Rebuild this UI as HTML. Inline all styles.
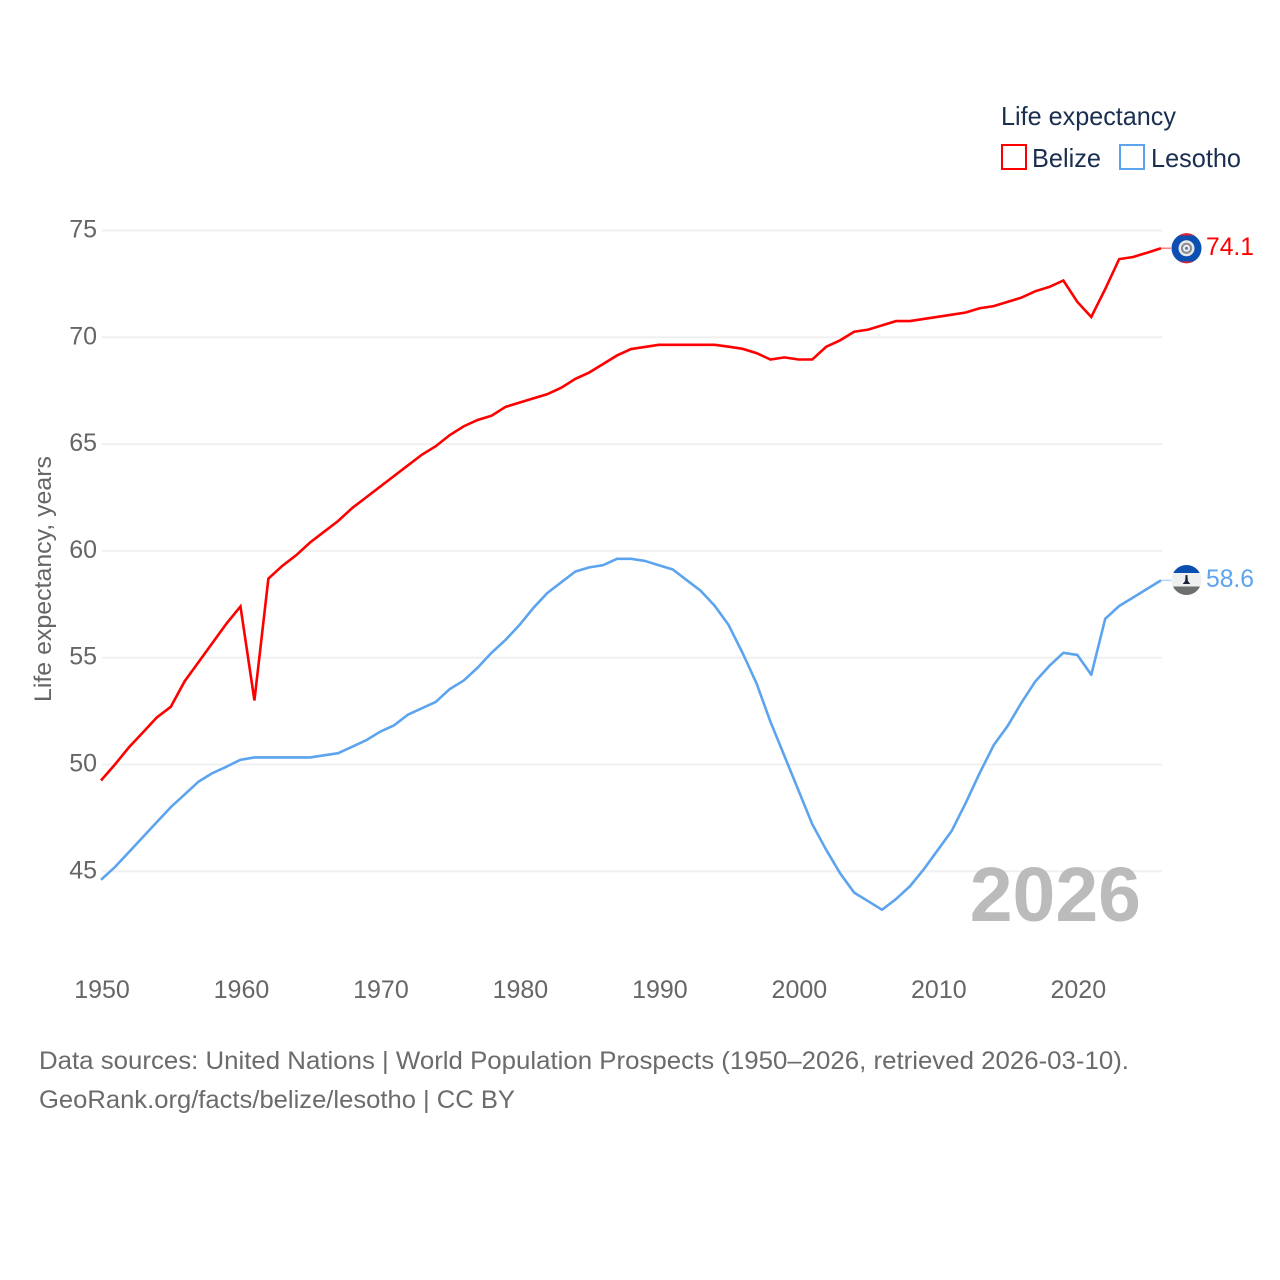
<!DOCTYPE html>
<html lang="en">
<head>
<meta charset="utf-8">
<title>Life expectancy: Belize vs Lesotho</title>
<style>
html,body{margin:0;padding:0;background:#fff;width:1280px;height:1280px;overflow:hidden}
svg{display:block;font-family:"Liberation Sans",sans-serif}
</style>
</head>
<body>
<svg id="chart" width="1280" height="1280" viewBox="0 0 1280 1280" xmlns="http://www.w3.org/2000/svg">
  <rect width="1280" height="1280" fill="#fff"/>
  <g id="grid"></g>
  <g id="yticks"></g>
  <g id="xticks"></g>
  <text transform="translate(51,702) rotate(-90)" font-size="24" fill="#666" textLength="246" lengthAdjust="spacingAndGlyphs">Life expectancy, years</text>
  <text x="1141" y="921" text-anchor="end" font-size="77" font-weight="bold" fill="#bbbbbb">2026</text>
  <g id="series"></g>

  <g>
    <text x="1001" y="125" font-size="26" fill="#1a2f50" textLength="175" lengthAdjust="spacingAndGlyphs">Life expectancy</text>
    <g>
      <rect x="1002" y="145" width="24" height="24" fill="#fff" stroke="#ff0000" stroke-width="2"/>
      <text x="1032" y="167" font-size="26" fill="#1a2f50" textLength="69" lengthAdjust="spacingAndGlyphs">Belize</text>
    </g>
    <g>
      <rect x="1120" y="145" width="24" height="24" fill="#fff" stroke="#5ca4ee" stroke-width="2"/>
      <text x="1151" y="167" font-size="26" fill="#1a2f50" textLength="90" lengthAdjust="spacingAndGlyphs">Lesotho</text>
    </g>
  </g>

  <defs>
    <clipPath id="flag-clip-belize"><circle cx="1186.500" cy="248.300" r="15"/></clipPath>
    <clipPath id="flag-clip-lesotho"><circle cx="1186.500" cy="580" r="15"/></clipPath>
  </defs>

  <g clip-path="url(#flag-clip-belize)">
    <rect x="1171" y="233" width="31" height="31" fill="#0b4fb3"/>
    <rect x="1171" y="233" width="31" height="2.500" fill="#e0202a"/>
    <rect x="1171" y="261.500" width="31" height="2.500" fill="#e0202a"/>
    <circle cx="1186.500" cy="248.300" r="8" fill="#e8e8e8"/>
    <circle cx="1186.500" cy="248.300" r="5.600" fill="#8a8f96"/>
    <circle cx="1186.500" cy="248.300" r="3.500" fill="#f1f1f1"/>
    <circle cx="1186.500" cy="248.300" r="1.600" fill="#5d7fb0"/>
  </g>
  <text x="1206" y="255" font-size="25" fill="#ff0000" textLength="48" lengthAdjust="spacingAndGlyphs">74.1</text>

  <g clip-path="url(#flag-clip-lesotho)">
    <rect x="1171" y="564" width="31" height="32" fill="#efefef"/>
    <rect x="1171" y="564" width="31" height="9" fill="#0a4fb0"/>
    <rect x="1171" y="586.500" width="31" height="10" fill="#6b6f6d"/>
    <path d="M1185.600 575 h1.800 l0.500 6 l2.400 3 h-7.600 l2.400 -3 z" fill="#1a2338"/>
  </g>
  <text x="1206" y="587" font-size="25" fill="#5ca4ee" textLength="48" lengthAdjust="spacingAndGlyphs">58.6</text>

  <text x="39" y="1069" font-size="25" fill="#6b6b6b" textLength="1090" lengthAdjust="spacingAndGlyphs">Data sources: United Nations | World Population Prospects (1950–2026, retrieved 2026-03-10).</text>
  <text x="39" y="1108" font-size="25" fill="#6b6b6b" textLength="476" lengthAdjust="spacingAndGlyphs">GeoRank.org/facts/belize/lesotho | CC BY</text>
</svg>
<script>
const startYear = 1950;
const xTickLabels = [1950, 1960, 1970, 1980, 1990, 2000, 2010, 2020];
const yTickLabels = [45, 50, 55, 60, 65, 70, 75];
const belizeValues = [
  49.25, 50.0, 50.8, 51.5, 52.2, 52.7, 53.9, 54.8, 55.7, 56.6,
  57.4, 53.0, 58.7, 59.3, 59.8, 60.4, 60.9, 61.4, 62.0, 62.5,
  63.0, 63.5, 64.0, 64.5, 64.9, 65.42, 65.83, 66.13, 66.33, 66.74,
  66.94, 67.14, 67.34, 67.64, 68.05, 68.35, 68.75, 69.15, 69.45, 69.55,
  69.65, 69.65, 69.65, 69.65, 69.65, 69.56, 69.46, 69.26, 68.96, 69.06,
  68.96, 68.96, 69.56, 69.86, 70.26, 70.36, 70.56, 70.76, 70.76, 70.86,
  70.96, 71.06, 71.16, 71.36, 71.46, 71.66, 71.86, 72.16, 72.36, 72.66,
  71.66, 70.95, 72.26, 73.66, 73.76, 73.96, 74.17
];
const lesothoValues = [
  44.6, 45.2, 45.9, 46.6, 47.3, 48.0, 48.6, 49.2, 49.6, 49.9,
  50.22, 50.33, 50.33, 50.33, 50.33, 50.33, 50.43, 50.53, 50.83, 51.13,
  51.53, 51.83, 52.33, 52.63, 52.93, 53.53, 53.93, 54.53, 55.23, 55.83,
  56.53, 57.33, 58.03, 58.53, 59.03, 59.23, 59.33, 59.63, 59.63, 59.53,
  59.33, 59.13, 58.63, 58.13, 57.43, 56.53, 55.22, 53.8, 52.0, 50.4,
  48.8, 47.2, 46.0, 44.9, 44.0, 43.6, 43.2, 43.7, 44.3, 45.1,
  46.0, 46.9, 48.2, 49.6, 50.9, 51.8, 52.9, 53.9, 54.62, 55.23,
  55.13, 54.2, 56.82, 57.42, 57.82, 58.22, 58.62
];

const NS = 'http://www.w3.org/2000/svg';
const xScale = year => 102 + (year - 1950) * (1060 / 76);
const lineX = year => 101 + (year - 1950) * (1060 / 76);
const yScale = value => 230.5 + (75 - value) * 21.36;

const gridGroup = document.getElementById('grid');
const yGroup = document.getElementById('yticks');
const xGroup = document.getElementById('xticks');
const seriesGroup = document.getElementById('series');

yTickLabels.forEach(function (tick) {
  const line = document.createElementNS(NS, 'line');
  
  
  line.setAttribute('x1', 102);
  line.setAttribute('x2', 1162);
  line.setAttribute('y1', yScale(tick));
  line.setAttribute('y2', yScale(tick));
  line.setAttribute('stroke', '#f0f0f0');
  line.setAttribute('stroke-width', 2);
  gridGroup.appendChild(line);

  const label = document.createElementNS(NS, 'text');
  
  
  label.setAttribute('x', 97);
  label.setAttribute('y', yScale(tick) + 7);
  label.setAttribute('text-anchor', 'end');
  label.setAttribute('font-size', 25);
  label.setAttribute('fill', '#666');
  label.textContent = tick;
  yGroup.appendChild(label);
});

xTickLabels.forEach(function (tick) {
  const label = document.createElementNS(NS, 'text');
  
  
  label.setAttribute('x', xScale(tick));
  label.setAttribute('y', 998);
  label.setAttribute('text-anchor', 'middle');
  label.setAttribute('font-size', 25);
  label.setAttribute('fill', '#666');
  label.textContent = tick;
  xGroup.appendChild(label);
});

function pointsFor(values) {
  return values.map(function (value, i) {
    return lineX(startYear + i).toFixed(2) + ',' + yScale(value).toFixed(2);
  }).join(' ');
}

function endStub(values, color) {
  const stub = document.createElementNS(NS, 'line');
  
  
  const last = yScale(values[values.length - 1]);
  stub.setAttribute('x1', lineX(startYear + values.length - 1));
  stub.setAttribute('x2', 1171);
  stub.setAttribute('y1', last);
  stub.setAttribute('y2', last);
  stub.setAttribute('stroke', color);
  stub.setAttribute('stroke-width', 1.5);
  seriesGroup.appendChild(stub);
}

const lesothoLine = document.createElementNS(NS, 'polyline');


lesothoLine.setAttribute('points', pointsFor(lesothoValues));
lesothoLine.setAttribute('fill', 'none');
lesothoLine.setAttribute('stroke', '#5ca4ee');
lesothoLine.setAttribute('stroke-width', 2.6);
lesothoLine.setAttribute('stroke-linejoin', 'round');
seriesGroup.appendChild(lesothoLine);

const belizeLine = document.createElementNS(NS, 'polyline');


belizeLine.setAttribute('points', pointsFor(belizeValues));
belizeLine.setAttribute('fill', 'none');
belizeLine.setAttribute('stroke', '#ff0000');
belizeLine.setAttribute('stroke-width', 2.6);
belizeLine.setAttribute('stroke-linejoin', 'miter');
seriesGroup.appendChild(belizeLine);

endStub(belizeValues, '#ff8080');
endStub(lesothoValues, '#b5d4f6');
</script>
</body>
</html>
